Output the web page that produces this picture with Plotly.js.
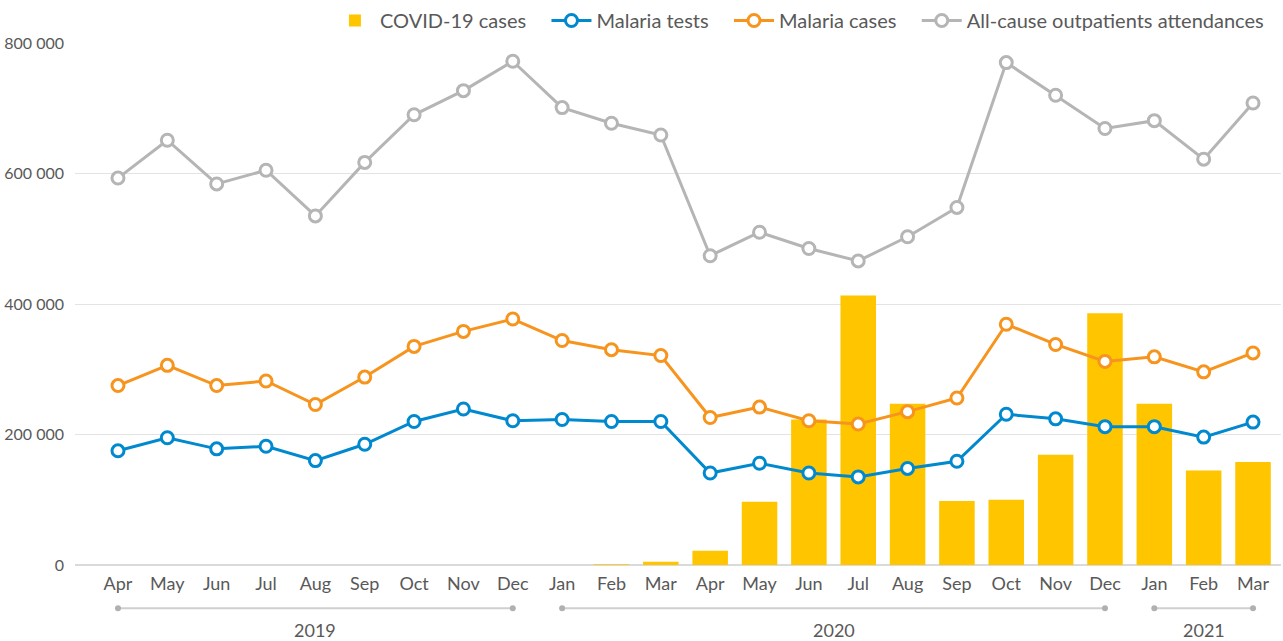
<!DOCTYPE html>
<html>
<head>
<meta charset="utf-8">
<script src="https://cdn.plot.ly/plotly-3.0.1.min.js"></script>
<style>html,body{margin:0;padding:0;background:#fff;}#chart{width:1283px;height:641px;}</style>
</head>
<body>
<div id="chart"></div>
<script>
const months = ["Apr","May","Jun","Jul","Aug","Sep","Oct","Nov","Dec","Jan","Feb","Mar","Apr","May","Jun","Jul","Aug","Sep","Oct","Nov","Dec","Jan","Feb","Mar"];
const years = ["2019","2019","2019","2019","2019","2019","2019","2019","2019","2020","2020","2020","2020","2020","2020","2020","2020","2020","2020","2020","2020","2021","2021","2021"];
const covidCases = [0,0,0,0,0,0,0,0,0,0,1000,5000,22000,97000,223000,413000,247000,98000,100000,169000,386000,247000,145000,158000];
const malariaTests = [175000,195000,178000,182000,160000,185000,220000,239000,221000,223000,220000,220000,141000,156000,141000,135000,148000,159000,231000,224000,212000,212000,196000,219000];
const malariaCases = [275000,306000,275000,282000,246000,288000,335000,358000,377000,344000,330000,321000,226000,242000,221000,216000,235000,256000,369000,338000,312000,319000,296000,325000];
const outpatients = [593000,651000,584000,605000,535000,617000,690000,727000,772000,701000,677000,659000,474000,510000,485000,466000,503000,548000,770000,720000,669000,681000,622000,708000];

const idx = months.map((_, i) => i);
const FONT = "Lato, 'Open Sans', sans-serif";
const TXT = "#595959";
const GAP = "\u00a0\u00a0\u00a0";

function lineTrace(name, y, color) {
  return {
    type: "scatter", mode: "lines+markers", name: name, x: idx, y: y,
    line: {color: color, width: 3},
    marker: {symbol: "circle", size: 12, color: "#ffffff", line: {color: color, width: 3}}
  };
}

const traces = [
  {type: "bar", name: "COVID-19 cases" + GAP, x: idx, y: covidCases, marker: {color: "#FFC600"}},
  lineTrace("Malaria tests" + GAP, malariaTests, "#0089CF"),
  lineTrace("Malaria cases" + GAP, malariaCases, "#F7941D"),
  lineTrace("All-cause outpatients attendances", outpatients, "#B5B5B5")
];

// year groups
const groups = [];
years.forEach((yv, i) => {
  if (!groups.length || groups[groups.length - 1].year !== yv) groups.push({year: yv, start: i, end: i});
  else groups[groups.length - 1].end = i;
});
const shapes = [];
const annotations = [];
const gy = -0.083, ly = -0.125;
groups.forEach(g => {
  shapes.push({type: "line", xref: "x", yref: "paper", x0: g.start, x1: g.end, y0: gy, y1: gy,
    line: {color: "#CFCFCF", width: 2}});
  [g.start, g.end].forEach(p => {
    shapes.push({type: "circle", xref: "x", yref: "paper", xsizemode: "pixel", ysizemode: "pixel",
      xanchor: p, yanchor: gy, x0: -3, x1: 3, y0: -3, y1: 3,
      fillcolor: "#B0B0B0", line: {width: 0}});
  });
  annotations.push({xref: "x", yref: "paper", x: (g.start + g.end) / 2, y: ly, text: g.year,
    showarrow: false, font: {family: FONT, size: 18, color: TXT}, yanchor: "middle"});
});

const layout = {
  width: 1283, height: 641,
  margin: {l: 75, r: 2, t: 43, b: 76, autoexpand: false},
  paper_bgcolor: "#ffffff", plot_bgcolor: "#ffffff",
  separators: ", ",
  font: {family: FONT, size: 18, color: TXT},
  bargap: 0.28,
  showlegend: true,
  legend: {orientation: "h", x: 0.99, xanchor: "right", yref: "container", y: 0.968, yanchor: "middle",
    font: {family: FONT, size: 20, color: TXT}, traceorder: "normal", itemwidth: 40},
  xaxis: {
    range: [-0.871, 23.567], tickmode: "array", tickvals: idx, ticktext: months,
    showgrid: false, zeroline: false, showline: false, ticks: "", ticklabelstandoff: 6,
    tickfont: {family: FONT, size: 18, color: TXT}, fixedrange: true, automargin: false
  },
  yaxis: {
    range: [0, 800000], tickvals: [0, 200000, 400000, 600000, 800000], tickformat: ",d",
    showgrid: true, gridcolor: "#E3E3E3", gridwidth: 1, zeroline: true, zerolinecolor: "#DADADA", zerolinewidth: 1.5,
    showline: false, ticks: "", ticklabelstandoff: 10,
    tickfont: {family: FONT, size: 16, color: TXT}, fixedrange: true, automargin: false
  },
  shapes: shapes,
  annotations: annotations
};

Plotly.newPlot("chart", traces, layout, {displayModeBar: false, staticPlot: true});
</script>
</body>
</html>
